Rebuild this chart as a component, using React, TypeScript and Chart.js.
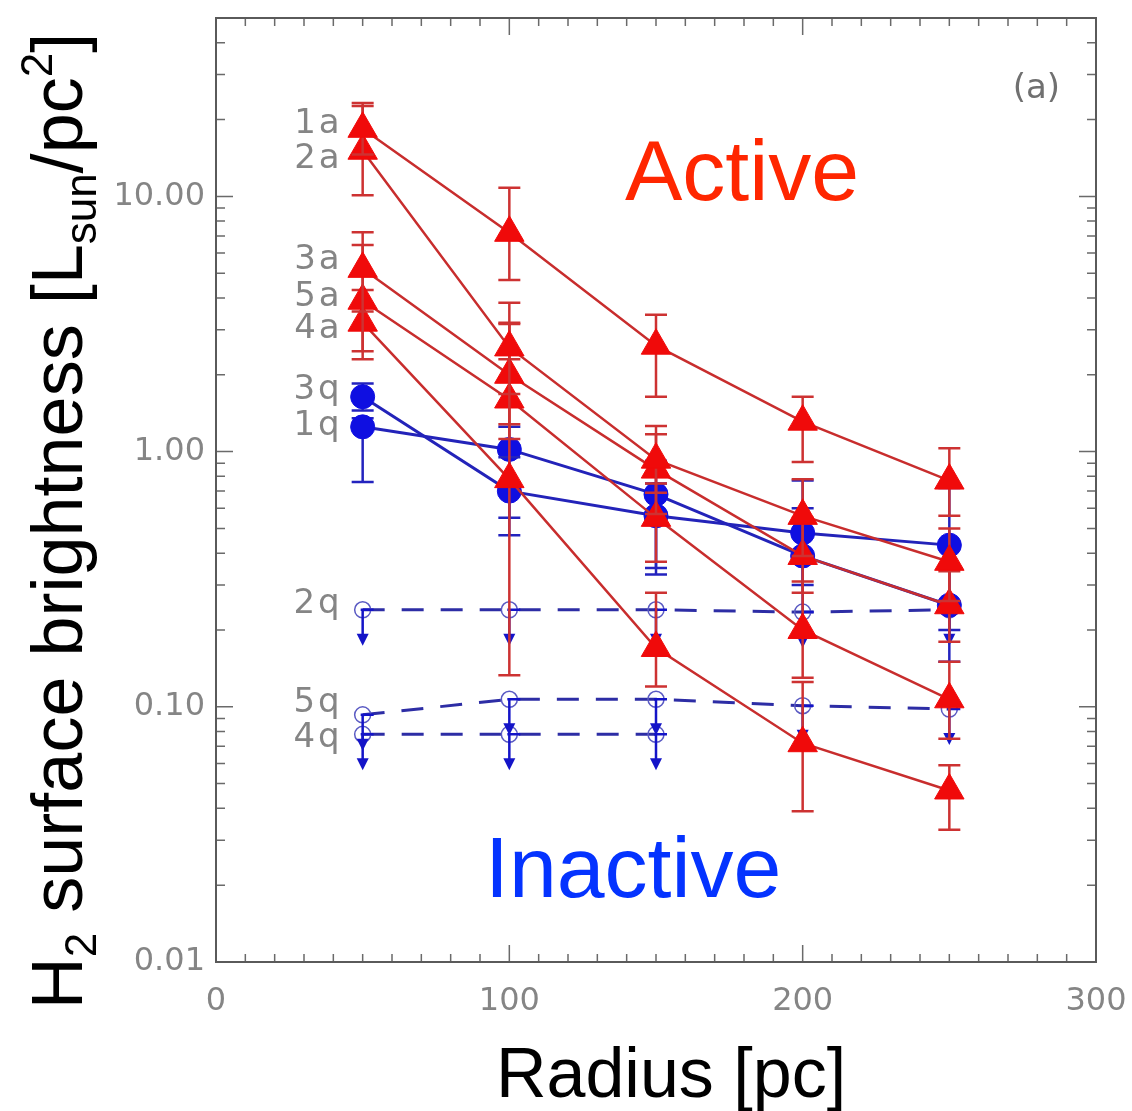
import React, { useEffect, useRef } from "react";
import { Chart, registerables } from "chart.js";

Chart.register(...registerables);

// ---------------- data ----------------
const radius = [50, 100, 150, 200, 250];
const radius4q = [50, 100, 150];

const active1a = [18.4, 7.2, 2.6, 1.31, 0.77];
const active1aLow = [14.6, 4.7, 1.64, 0.91, 0.56];
const active1aHigh = [23.2, 10.8, 3.44, 1.64, 1.03];

const active2a = [15.1, 2.56, 0.93, 0.56, 0.37];
const active2aLow = [10.1, 1.68, 0.69, 0.39, 0.26];
const active2aHigh = [22.6, 3.83, 1.26, 0.78, 0.5];

const active3a = [5.2, 2.0, 0.85, 0.39, 0.25];
const active3aLow = [3.54, 1.28, 0.57, 0.28, 0.18];
const active3aHigh = [7.24, 3.16, 1.17, 0.55, 0.34];

const active5a = [3.9, 1.6, 0.55, 0.2, 0.107];
const active5aLow = [2.47, 1.12, 0.37, 0.13, 0.075];
const active5aHigh = [6.45, 2.3, 0.75, 0.31, 0.15];

const active4a = [3.2, 0.78, 0.17, 0.072, 0.047];
const active4aLow = [2.3, 0.133, 0.12, 0.039, 0.033];
const active4aHigh = [4.3, 3.2, 0.28, 0.125, 0.059];

const inactive3q = [1.64, 0.7, 0.56, 0.48, 0.43];
const inactive3qLow = [1.45, 0.47, 0.33, 0.3, 0.2];
const inactive3qHigh = [1.85, 0.95, 0.75, 0.77, 0.72];

const inactive1q = [1.25, 1.02, 0.68, 0.39, 0.25];
const inactive1qLow = [0.76, 0.55, 0.35, 0.19, 0.15];
const inactive1qHigh = [1.35, 1.25, 0.92, 0.6, 0.35];

const upper2q = [0.24, 0.24, 0.24, 0.235, 0.24];
const upper5q = [0.093, 0.107, 0.107, 0.101, 0.098];
const upper4q = [0.078, 0.078, 0.078];

const xTickValues = [0, 100, 200, 300];
const yTickValues = [0.01, 0.1, 1, 10];

// ---------------- styles ----------------
const RED_LINE = "rgb(200,45,45)";
const RED_FILL = "rgb(240,10,10)";
const RED_ERR = "rgb(205,50,50)";
const BLUE_LINE = "rgb(35,35,185)";
const BLUE_FILL = "rgb(15,15,225)";
const BLUE_ERR = "rgb(35,35,190)";
const LIMIT_LINE = "rgb(45,45,165)";
const LIMIT_MARK = "rgb(90,90,195)";
const ARROW = "rgb(20,20,200)";
const GRAY_TEXT = "#858585";
const FRAME = "#5a5a5a";

// label baseline nudges (px) relative to first point
const labelNudge: Record<string, number> = {
  "1a": -8, "2a": 5, "3a": -12, "5a": -7, "4a": 3,
  "3q": -10, "1q": -4, "2q": -9, "5q": -15, "4q": 1,
};

const pts = (xs: number[], ys: number[]) => xs.map((x, i) => ({ x, y: ys[i] }));

function activeDs(label: string, ys: number[], lo: number[], hi: number[]) {
  return {
    label,
    data: pts(radius, ys),
    errLow: lo,
    errHigh: hi,
    errColor: RED_ERR,
    borderColor: RED_LINE,
    borderWidth: 2.5,
    pointStyle: "triangle",
    pointRadius: 17,
    pointBackgroundColor: RED_FILL,
    pointBorderColor: RED_FILL,
    pointBorderWidth: 1,
    tension: 0,
    fill: false,
  };
}

function inactiveDs(label: string, ys: number[], lo: number[], hi: number[]) {
  return {
    label,
    data: pts(radius, ys),
    errLow: lo,
    errHigh: hi,
    errColor: BLUE_ERR,
    borderColor: BLUE_LINE,
    borderWidth: 3,
    pointStyle: "circle",
    pointRadius: 12,
    pointBackgroundColor: BLUE_FILL,
    pointBorderColor: BLUE_FILL,
    pointBorderWidth: 1,
    tension: 0,
    fill: false,
  };
}

function limitDs(label: string, xs: number[], ys: number[]) {
  return {
    label,
    data: pts(xs, ys),
    isLimit: true,
    borderColor: LIMIT_LINE,
    borderWidth: 3,
    borderDash: [22, 17],
    pointStyle: "circle",
    pointRadius: 8,
    pointBackgroundColor: "rgba(255,255,255,0)",
    pointBorderColor: LIMIT_MARK,
    pointBorderWidth: 1.5,
    tension: 0,
    fill: false,
  };
}

// ---------------- plugins ----------------
const frameTicksPlugin = {
  id: "frameTicks",
  beforeDatasetsDraw(chart: any) {
    const { ctx, chartArea: a, scales } = chart;
    const x = scales.x, y = scales.y;
    ctx.save();
    ctx.strokeStyle = "#6a6a6a";
    ctx.lineWidth = 1.5;
    for (let v = 10; v < 300; v += 10) {
      const px = x.getPixelForValue(v);
      const len = v % 100 === 0 ? 17 : 8;
      ctx.beginPath();
      ctx.moveTo(px, a.bottom); ctx.lineTo(px, a.bottom - len);
      ctx.moveTo(px, a.top); ctx.lineTo(px, a.top + len);
      ctx.stroke();
    }
    for (let d = 0.01; d < 50; d *= 10) {
      for (let m = 1; m <= 9; m++) {
        const v = d * m;
        if (v <= 0.01 * 1.0001 || v >= 50) continue;
        const py = y.getPixelForValue(v);
        const len = m === 1 ? 17 : 9;
        ctx.beginPath();
        ctx.moveTo(a.left, py); ctx.lineTo(a.left + len, py);
        ctx.moveTo(a.right, py); ctx.lineTo(a.right - len, py);
        ctx.stroke();
      }
    }
    ctx.strokeStyle = FRAME;
    ctx.lineWidth = 2;
    ctx.strokeRect(a.left, a.top, a.right - a.left, a.bottom - a.top);
    ctx.restore();
  },
};

const errorBarsPlugin = {
  id: "errorBars",
  beforeDatasetDraw(chart: any, args: any) {
    const ds = chart.data.datasets[args.index];
    if (!ds.errLow) return;
    const { ctx, scales } = chart;
    const x = scales.x, y = scales.y;
    ctx.save();
    ctx.strokeStyle = ds.errColor;
    ctx.lineWidth = 2.5;
    ds.data.forEach((p: any, i: number) => {
      const px = x.getPixelForValue(p.x);
      const yl = y.getPixelForValue(ds.errLow[i]);
      const yh = y.getPixelForValue(ds.errHigh[i]);
      ctx.beginPath();
      ctx.moveTo(px, yl); ctx.lineTo(px, yh);
      ctx.moveTo(px - 11, yl); ctx.lineTo(px + 11, yl);
      ctx.moveTo(px - 11, yh); ctx.lineTo(px + 11, yh);
      ctx.stroke();
    });
    ctx.restore();
  },
  afterDatasetDraw(chart: any, args: any) {
    const ds = chart.data.datasets[args.index];
    if (!ds.isLimit) return;
    const { ctx, scales } = chart;
    const x = scales.x, y = scales.y;
    ctx.save();
    ctx.strokeStyle = ARROW;
    ctx.fillStyle = ARROW;
    ctx.lineWidth = 2.5;
    ds.data.forEach((p: any) => {
      const px = x.getPixelForValue(p.x);
      const py = y.getPixelForValue(p.y);
      ctx.beginPath();
      ctx.moveTo(px - 2, py); ctx.lineTo(px + 11, py);
      ctx.moveTo(px, py); ctx.lineTo(px, py + 26);
      ctx.stroke();
      ctx.beginPath();
      ctx.moveTo(px - 6, py + 24);
      ctx.lineTo(px + 6, py + 24);
      ctx.lineTo(px, py + 36);
      ctx.closePath();
      ctx.fill();
    });
    ctx.restore();
  },
};

const annotationPlugin = {
  id: "annotations",
  afterDraw(chart: any) {
    const { ctx, scales } = chart;
    const x = scales.x, y = scales.y;
    const a = chart.chartArea;
    ctx.save();
    ctx.font = "34px 'DejaVu Sans'";
    (ctx as any).letterSpacing = "3px";
    ctx.fillStyle = GRAY_TEXT;
    ctx.textAlign = "right";
    ctx.textBaseline = "alphabetic";
    chart.data.datasets.forEach((ds: any) => {
      const p = ds.data[0];
      const py = y.getPixelForValue(p.y);
      const px = x.getPixelForValue(p.x);
      ctx.fillText(ds.label, px - 20, py + 12 + (labelNudge[ds.label] || 0));
    });
    (ctx as any).letterSpacing = "0px";

    ctx.font = "34px 'DejaVu Sans'";
    ctx.fillStyle = "#707070";
    ctx.textAlign = "right";
    ctx.fillText("(a)", a.right - 36, a.top + 80);

    ctx.textAlign = "left";
    ctx.font = "86px 'Liberation Sans'";
    ctx.fillStyle = "#FF2600";
    ctx.fillText("Active", 625, 200);
    ctx.fillStyle = "#0433FF";
    ctx.fillText("Inactive", 485, 897);

    ctx.fillStyle = "#000";
    ctx.textAlign = "center";
    ctx.font = "70px 'Liberation Sans'";
    ctx.fillText("Radius [pc]", (a.left + a.right) / 2 + 15, 1097);

    const big = 72, small = 44;
    const segs = [
      { t: "H", s: big, dy: 0 },
      { t: "2", s: small, dy: 14 },
      { t: " surface brightness [L", s: big, dy: 0 },
      { t: "sun", s: small, dy: 14 },
      { t: "/pc", s: big, dy: 0 },
      { t: "2", s: small, dy: -30 },
      { t: "]", s: big, dy: 0 },
    ];
    let total = 0;
    const widths = segs.map((sg) => {
      ctx.font = `${sg.s}px 'Liberation Sans'`;
      const w = ctx.measureText(sg.t).width;
      total += w;
      return w;
    });
    ctx.translate(82, 521);
    ctx.rotate(-Math.PI / 2);
    ctx.textAlign = "left";
    let cx = -total / 2;
    segs.forEach((sg, i) => {
      ctx.font = `${sg.s}px 'Liberation Sans'`;
      ctx.fillText(sg.t, cx, sg.dy);
      cx += widths[i];
    });
    ctx.restore();
  },
};

const zeroPad = (s: any) => {
  s.paddingTop = 0;
  s.paddingBottom = 0;
  s.paddingLeft = 0;
  s.paddingRight = 0;
};

export default function App() {
  const ref = useRef<HTMLCanvasElement | null>(null);
  useEffect(() => {
    document.body.style.margin = "0";
    const canvas = ref.current;
    if (!canvas) return;
    const datasets: any[] = [
      activeDs("1a", active1a, active1aLow, active1aHigh),
      activeDs("2a", active2a, active2aLow, active2aHigh),
      activeDs("3a", active3a, active3aLow, active3aHigh),
      activeDs("5a", active5a, active5aLow, active5aHigh),
      activeDs("4a", active4a, active4aLow, active4aHigh),
      inactiveDs("3q", inactive3q, inactive3qLow, inactive3qHigh),
      inactiveDs("1q", inactive1q, inactive1qLow, inactive1qHigh),
      limitDs("2q", radius, upper2q),
      limitDs("5q", radius, upper5q),
      limitDs("4q", radius4q, upper4q),
    ];
    const chart = new Chart(canvas, {
      type: "line",
      data: { datasets },
      options: {
        animation: false,
        responsive: false,
        devicePixelRatio: 1,
        layout: { padding: { top: 13, right: 36, left: 0, bottom: 0 } },
        plugins: { legend: { display: false }, tooltip: { enabled: false } },
        scales: {
          x: {
            type: "linear",
            min: 0,
            max: 300,
            grid: { display: false, drawTicks: false },
            border: { display: false },
            afterBuildTicks: (s: any) => {
              s.ticks = xTickValues.map((v) => ({ value: v }));
            },
            afterFit: (s: any) => {
              s.height = 149;
              zeroPad(s);
            },
            ticks: {
              autoSkip: false,
              maxRotation: 0,
              padding: 20,
              color: GRAY_TEXT,
              font: { family: "'DejaVu Sans'", size: 32 },
              callback: (v: any) => String(v),
            },
          },
          y: {
            type: "logarithmic",
            min: 0.01,
            max: 50,
            grid: { display: false, drawTicks: false },
            border: { display: false },
            afterBuildTicks: (s: any) => {
              s.ticks = yTickValues.map((v) => ({ value: v }));
            },
            afterFit: (s: any) => {
              s.width = 216;
              zeroPad(s);
            },
            ticks: {
              autoSkip: false,
              padding: 11,
              color: GRAY_TEXT,
              font: { family: "'DejaVu Sans'", size: 32 },
              callback: (v: any) => Number(v).toFixed(2),
            },
          },
        },
      } as any,
      plugins: [frameTicksPlugin, errorBarsPlugin, annotationPlugin],
    });
    return () => chart.destroy();
  }, []);
  return (
    <canvas
      ref={ref}
      width={1132}
      height={1111}
      style={{ display: "block", width: 1132, height: 1111 }}
    />
  );
}
